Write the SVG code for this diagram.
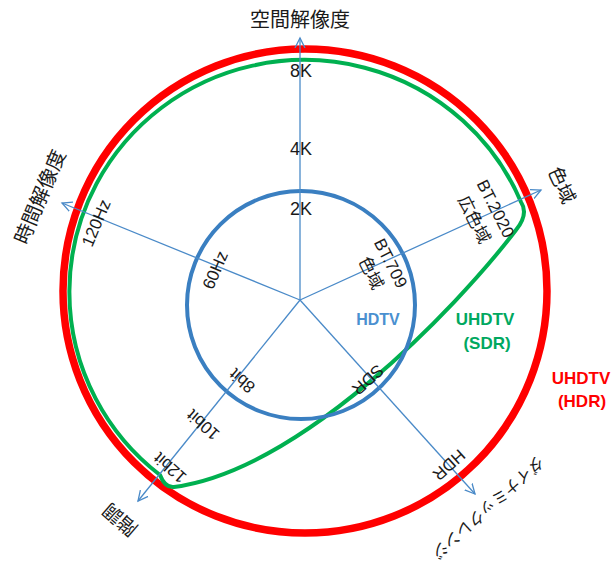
<svg xmlns="http://www.w3.org/2000/svg" width="611" height="566" viewBox="0 0 611 566">
<defs>
<style>
.t{font-family:"Liberation Sans","Noto Sans CJK JP",sans-serif;font-size:17px;fill:#1a1a1a;text-anchor:middle}
.j{font-size:20px}
.ax{stroke:#4a8ac8;stroke-width:1.3;fill:none}
.b{font-weight:bold;text-anchor:middle;font-family:"Liberation Sans",sans-serif;font-size:16px}
</style>
<marker id="arr" markerWidth="12" markerHeight="12" refX="10" refY="5" orient="auto" markerUnits="userSpaceOnUse" viewBox="0 0 12 10">
<path d="M0,0 L10,5 L0,10" fill="none" stroke="#4a8ac8" stroke-width="1.3"/>
</marker>
</defs>
<rect width="611" height="566" fill="#fff"/>
<g id="uhdtv-hdr"><circle cx="305" cy="291" r="242" fill="none" stroke="#ff0000" stroke-width="7.5"/></g>
<g id="uhdtv-sdr"><path d="M160,475 A235,232 0 1 1 521,202 C527,211 524,220 516,230 C455,310 300,470 174,487 Q165,488 160,475 Z" fill="none" stroke="#00b050" stroke-width="4"/></g>
<g id="hdtv"><circle cx="301" cy="305" r="114" fill="none" stroke="#3a7fc1" stroke-width="4"/></g>
<g id="connectors">
<line class="ax" x1="300" y1="300" x2="300" y2="38" marker-end="url(#arr)"/>
<line class="ax" x1="300" y1="300" x2="62" y2="203" marker-end="url(#arr)"/>
<line class="ax" x1="300" y1="300" x2="541" y2="190" marker-end="url(#arr)"/>
<line class="ax" x1="300" y1="300" x2="138" y2="501" marker-end="url(#arr)"/>
<line class="ax" x1="300" y1="300" x2="475" y2="494" marker-end="url(#arr)"/>
</g>
<g id="axis-spatial">
<text class="t j" x="300" y="27">空間解像度</text>
<text class="t" style="font-size:18px" x="301" y="77">8K</text>
<text class="t" style="font-size:18px" x="301" y="155">4K</text>
<text class="t" style="font-size:18px" x="301" y="215">2K</text>
</g>
<g id="axis-temporal">
<text class="t j" transform="translate(40,197) rotate(-67)" dy="7">時間解像度</text>
<text class="t" transform="translate(96,223) rotate(-67)" dy="6">120Hz</text>
<text class="t" transform="translate(215,270) rotate(-67)" dy="6">60Hz</text>
</g>
<g id="axis-gamut">
<text class="t" style="font-size:19px" transform="translate(562,185) rotate(65)" dy="7">色域</text>
<g transform="translate(485,214) rotate(63)">
<text class="t" x="0" y="-6">BT.2020</text>
<text class="t" x="0" y="18">広色域</text>
</g>
<g transform="translate(381,268) rotate(63)">
<text class="t" x="0" y="-5">BT.709</text>
<text class="t" x="0" y="17">色域</text>
</g>
</g>
<g id="axis-gradation">
<text class="t" style="font-size:19px" transform="translate(120,520) rotate(-139)" dy="7">階調</text>
<text class="t" transform="translate(242,381) rotate(-139)" dy="6">8bit</text>
<text class="t" transform="translate(203,425) rotate(-139)" dy="6">10bit</text>
<text class="t" transform="translate(170,468) rotate(-139)" dy="6">12bit</text>
</g>
<g id="axis-dynamic-range">
<text class="t" style="font-size:16px" transform="translate(488,508) rotate(138)" dy="6">ダイナミックレンジ</text>
<text class="t" transform="translate(368,380) rotate(138)" dy="6">SDR</text>
<text class="t" transform="translate(449,465) rotate(138)" dy="6">HDR</text>
</g>
<g id="legend">
<text class="b" x="378" y="325" fill="#4a90d0">HDTV</text>
<text class="b" x="485" y="325" fill="#00a860" style="font-size:17px">UHDTV</text>
<text class="b" x="487" y="349" fill="#00a860" style="font-size:17px">(SDR)</text>
<text class="b" x="581" y="384" fill="#ff0000" style="font-size:17px">UHDTV</text>
<text class="b" x="582" y="407" fill="#ff0000" style="font-size:17px">(HDR)</text>
</g>
</svg>
